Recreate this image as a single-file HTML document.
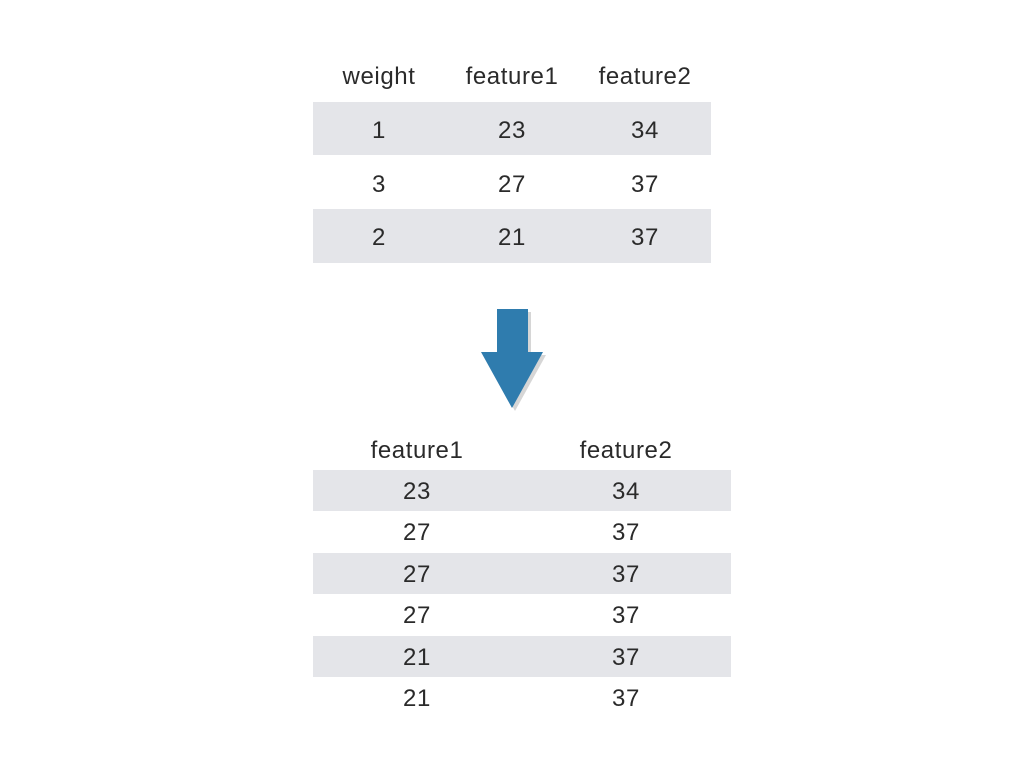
<!DOCTYPE html>
<html><head><meta charset="utf-8"><style>
body{margin:0;width:1024px;height:768px;background:#fff;position:relative;overflow:hidden;font-family:"Liberation Sans",sans-serif;color:#2a2a2a;font-size:24px;letter-spacing:0.6px}
.r{position:absolute;background:#e4e5e9}
.t{position:absolute;transform:translate(-50%,-50%);white-space:nowrap}
</style></head><body>
<div>
<div class="t" style="left:379px;top:77px">weight</div>
<div class="t" style="left:512px;top:77px">feature1</div>
<div class="t" style="left:645px;top:77px">feature2</div>
<div class="r" style="left:313px;top:102px;width:398px;height:53px"></div>
<div class="r" style="left:313px;top:209px;width:398px;height:54px"></div>
<div class="t" style="left:379px;top:131px">1</div>
<div class="t" style="left:512px;top:131px">23</div>
<div class="t" style="left:645px;top:131px">34</div>
<div class="t" style="left:379px;top:185px">3</div>
<div class="t" style="left:512px;top:185px">27</div>
<div class="t" style="left:645px;top:185px">37</div>
<div class="t" style="left:379px;top:238px">2</div>
<div class="t" style="left:512px;top:238px">21</div>
<div class="t" style="left:645px;top:238px">37</div>
</div>
<svg style="position:absolute;left:0;top:0" width="1024" height="768">
<polygon points="500,312 531,312 531,355 546,355 515,411 484,355 500,355" fill="#bbb" opacity="0.6"/>
<polygon points="497,309 528,309 528,352 543,352 512,408 481,352 497,352" fill="#2f7cae"/>
</svg>
<div>
<div class="t" style="left:417px;top:451px">feature1</div>
<div class="t" style="left:626px;top:451px">feature2</div>
<div class="r" style="left:313px;top:470px;width:418px;height:41px"></div>
<div class="r" style="left:313px;top:553px;width:418px;height:41px"></div>
<div class="r" style="left:313px;top:636px;width:418px;height:41px"></div>
<div class="t" style="left:417px;top:492px">23</div>
<div class="t" style="left:626px;top:492px">34</div>
<div class="t" style="left:417px;top:533px">27</div>
<div class="t" style="left:626px;top:533px">37</div>
<div class="t" style="left:417px;top:575px">27</div>
<div class="t" style="left:626px;top:575px">37</div>
<div class="t" style="left:417px;top:616px">27</div>
<div class="t" style="left:626px;top:616px">37</div>
<div class="t" style="left:417px;top:658px">21</div>
<div class="t" style="left:626px;top:658px">37</div>
<div class="t" style="left:417px;top:699px">21</div>
<div class="t" style="left:626px;top:699px">37</div>
</div>
</body></html>
